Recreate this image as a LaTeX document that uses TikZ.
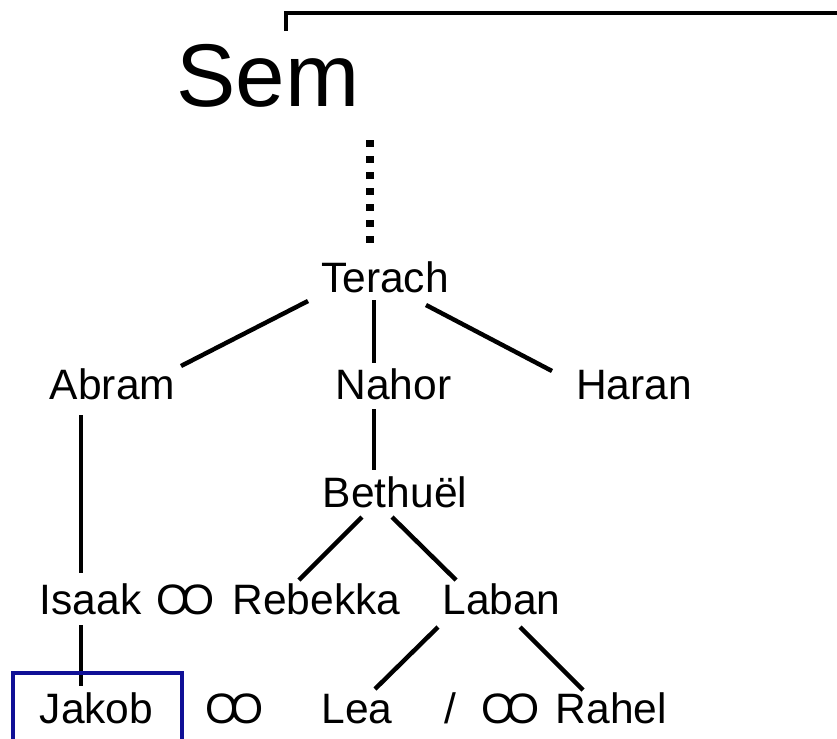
\documentclass[tikz,border=0pt]{standalone}
\usepackage{fontspec}
\setmainfont{Liberation Sans}
\usetikzlibrary{calc}
\definecolor{boxblue}{RGB}{16,16,150}

\begin{document}
\begin{tikzpicture}[x=0.3mm, y=-0.3mm,
    person/.style={anchor=base, inner sep=0pt, font=\fontsize{36.3pt}{40pt}\selectfont},
    ancestor/.style={anchor=base, inner sep=0pt, font=\fontsize{76pt}{80pt}\selectfont},
    descent/.style={line width=3.8pt},
    lineage/.style={line width=6pt, dash pattern=on 6pt off 7.7pt},
    bracketline/.style={line width=2.8pt},
    jakobbox/.style={draw=boxblue, line width=2.6pt}]
    % 0. 画布大小 (837 x 738)
    \clip (0,0) rectangle (837,738);
    \def\oo{O\kern-0.19em O}
    
    % 1. 顶部: Sem 与上方的括线
    \node[ancestor] (sem) at (268,106) {Sem};
    \coordinate (edge) at (845,13);
    \draw[bracketline] ($(sem.base)+(18,-75)$) |- (edge);
    
    % 2. Terach 及其三个儿子
    \node[person] (terach) at (385,292) {Terach};
    \draw[lineage] ($(sem.base)+(102,34)$) -- ($(terach.base)+(-15,-40)$);
    \node[person] (abram) at (112.5,399) {Abram};
    \node[person] (nahor) at (393.5,399) {Nahor};
    \node[person] (haran) at (634,399) {Haran};
    \draw[descent] ($(terach.base)+(-77,9)$) -- ($(abram.base)+(68.5,-33)$);
    \draw[descent] ($(terach.base)+(-11,8)$) -- ($(nahor.base)+(-19.5,-36)$);
    \draw[descent] ($(terach.base)+(41,13)$) -- ($(haran.base)+(-82,-28)$);
    
    % 3. Bethuël 及其子女
    \node[person] (bethuel) at (395,507) {Bethuël};
    \draw[descent] ($(nahor.base)+(-19.5,10)$) -- ($(bethuel.base)+(-21,-37)$);
    \node[person] (isaak) at (90.5,614) {Isaak};
    \node[person] (marriage1) at (185.5,614) {\oo};
    \node[person] (rebekka) at (316.5,614) {Rebekka};
    \node[person] (laban) at (501.5,614) {Laban};
    \draw[descent] ($(abram.base)+(-31.5,16)$) -- ($(isaak.base)+(-9.5,-41)$);
    \draw[descent] ($(bethuel.base)+(-33,10)$) -- ($(rebekka.base)+(-17.5,-34)$);
    \draw[descent] ($(bethuel.base)+(-3,10)$) -- ($(laban.base)+(-45.5,-34)$);
    
    % 4. 最下一行: Jakob, Lea, Rahel
    \node[person] (jakob) at (96.5,723) {Jakob};
    \node[person] (marriage2) at (235,723) {\oo};
    \node[person] (lea) at (357,723) {Lea};
    \node[person] (slash) at (450.5,723) {/};
    \node[person] (marriage3) at (511,723) {\oo};
    \node[person] (rahel) at (611.5,723) {Rahel};
    \draw[descent] ($(isaak.base)+(-9.5,11)$) -- ($(jakob.base)+(-15.5,-37)$);
    \draw[descent] ($(laban.base)+(-63.5,13)$) -- ($(lea.base)+(18,-34)$);
    \draw[descent] ($(laban.base)+(18.5,13)$) -- ($(rahel.base)+(-28.5,-33)$);
    
    % 5. Jakob 的蓝框 (下边在画面之外)
    \draw[jakobbox] ($(jakob.base)+(-83.5,-50)$) rectangle ($(jakob.base)+(85.5,25)$);
    
\end{tikzpicture}
\end{document}
